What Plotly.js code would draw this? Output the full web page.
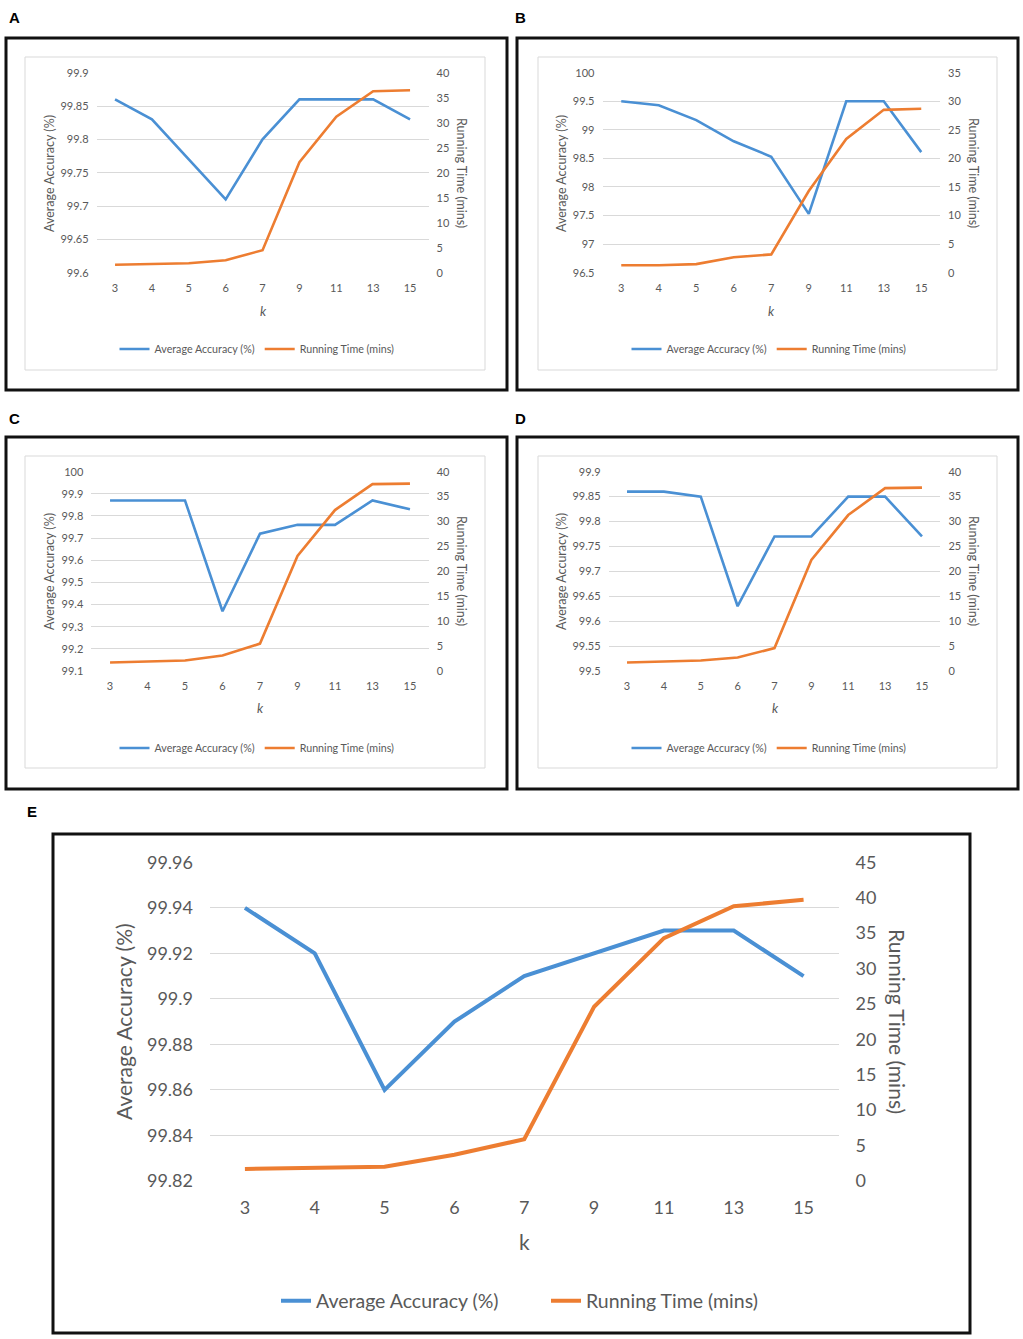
<!DOCTYPE html>
<html>
<head>
<meta charset="utf-8">
<script src="https://cdn.plot.ly/plotly-3.0.1.min.js"></script>
<style>html,body{margin:0;padding:0;background:#fff;}#chart{width:1023px;height:1339px;}</style>
</head>
<body>
<div id="chart"></div>
<script>
// ---- data ----
const kLabels = ['3','4','5','6','7','9','11','13','15'];
const accA  = [99.86, 99.83, 99.77, 99.71, 99.80, 99.86, 99.86, 99.86, 99.83];
const timeA = [1.6, 1.8, 1.9, 2.5, 4.5, 22.1, 31.2, 36.3, 36.5];
const accB  = [99.50, 99.43, 99.17, 98.80, 98.53, 97.53, 99.50, 99.50, 98.61];
const timeB = [1.3, 1.3, 1.5, 2.7, 3.2, 14.3, 23.4, 28.5, 28.7];
const accC  = [99.87, 99.87, 99.87, 99.37, 99.72, 99.76, 99.76, 99.87, 99.83];
const timeC = [1.7, 1.9, 2.1, 3.1, 5.5, 23.1, 32.3, 37.5, 37.6];
const accD  = [99.86, 99.86, 99.85, 99.63, 99.77, 99.77, 99.85, 99.85, 99.77];
const timeD = [1.7, 1.9, 2.1, 2.7, 4.6, 22.3, 31.3, 36.7, 36.8];
const accE  = [99.94, 99.92, 99.86, 99.89, 99.91, 99.92, 99.93, 99.93, 99.91];
const timeE = [1.7, 1.9, 2.0, 3.7, 5.9, 24.6, 34.3, 38.8, 39.7];
const panelLetters = ['A','B','C','D','E'];
const accName = 'Average Accuracy (%)';
const timeName = 'Running Time (mins)';
const xTitle = 'k';

// ---- layout geometry (pixels) ----
const W = 1023, H = 1339;
const px = v => v / W;
const py = v => 1 - v / H;
const FONT = 'Lato, "Open Sans", sans-serif';
const GREY = '#595959';
const BLUE = '#4a90d4';
const ORANGE = '#ed7d31';

const panels = [
  {acc: accA, time: timeA, accRange:[99.6,99.9], accDtick:0.05, timeRange:[0,40],
   plot:[96.6,428.5,72.7,272.7], border:[6,38,507,390], inner:[25,57,485,370],
   legend:[257,349], lt:[49,174], rt:[462,173], kpos:[263,311], letter:[14,18],
   big:false},
  {acc: accB, time: timeB, accRange:[96.5,100], accDtick:0.5, timeRange:[0,35],
   plot:[602.5,940,72.7,272.7], border:[517,38,1018,390], inner:[538,57,997,370],
   legend:[769,349], lt:[561,174], rt:[974,173], kpos:[771,311], letter:[520,18],
   big:false},
  {acc: accC, time: timeC, accRange:[99.1,100], accDtick:0.1, timeRange:[0,40],
   plot:[91.3,428.7,471.7,671], border:[6,437,507,789], inner:[25,456,485,768],
   legend:[257,748], lt:[49,572], rt:[462,571], kpos:[260,708], letter:[14,418],
   big:false},
  {acc: accD, time: timeD, accRange:[99.5,99.9], accDtick:0.05, timeRange:[0,40],
   plot:[608.6,940.4,471.7,671], border:[517,437,1018,789], inner:[538,456,997,768],
   legend:[769,748], lt:[561,572], rt:[974,571], kpos:[775,708], letter:[520,418],
   big:false},
  {acc: accE, time: timeE, accRange:[99.82,99.96], accDtick:0.02, timeRange:[0,45],
   plot:[210,838.5,862.3,1181], border:[53,834,970,1333], inner:null,
   legend:[276,1301], lt:[123,1022], rt:[898,1021], kpos:[524,1241], letter:[32,811],
   big:true}
];

const traces = [];
const layout = {
  width: W, height: H,
  margin: {l:0, r:0, t:0, b:0},
  paper_bgcolor: '#fff', plot_bgcolor: 'rgba(0,0,0,0)',
  font: {family: FONT, color: GREY},
  shapes: [], annotations: []
};

panels.forEach((p, i) => {
  const n = i + 1;
  const xa = n === 1 ? 'x' : 'x' + n;
  const yaL = 2 * n - 1, yaR = 2 * n;
  const yL = yaL === 1 ? 'y' : 'y' + yaL;
  const yR = 'y' + yaR;
  const legKey = n === 1 ? 'legend' : 'legend' + n;
  const lw = p.big ? 4 : 2.6;
  const tickSize = p.big ? 18 : 11;
  const titleSize = p.big ? 21 : 12.5;
  const legSize = p.big ? 19.5 : 10.7;

  traces.push({
    x: kLabels, y: p.acc, type: 'scatter', mode: 'lines', name: accName,
    xaxis: xa, yaxis: yL, legend: legKey,
    line: {color: BLUE, width: lw}, hoverinfo: 'skip'
  });
  traces.push({
    x: kLabels, y: p.time, type: 'scatter', mode: 'lines', name: timeName,
    xaxis: xa, yaxis: yR, legend: legKey,
    line: {color: ORANGE, width: lw}, hoverinfo: 'skip'
  });

  const xKey = n === 1 ? 'xaxis' : 'xaxis' + n;
  layout[xKey] = {
    type: 'category', categoryorder: 'array', categoryarray: kLabels,
    domain: [px(p.plot[0]), px(p.plot[1])], anchor: yL,
    range: [-0.5, 8.5], showgrid: false, zeroline: false, showline: false,
    ticks: '', tickfont: {size: tickSize, color: GREY, family: FONT},
    ticklabelstandoff: p.big ? 14 : 7, fixedrange: true
  };
  const yDom = [py(p.plot[3]), py(p.plot[2])];
  layout['yaxis' + (yaL === 1 ? '' : yaL)] = {
    domain: yDom, anchor: xa, range: p.accRange, dtick: p.accDtick, tick0: p.accRange[0],
    showgrid: true, gridcolor: '#d9d9d9', gridwidth: 1, zeroline: false, showline: false,
    ticks: '', tickfont: {size: tickSize, color: GREY, family: FONT},
    ticklabelstandoff: p.big ? 16 : 7, fixedrange: true
  };
  layout['yaxis' + yaR] = {
    domain: yDom, anchor: xa, overlaying: yL, side: 'right',
    range: p.timeRange, dtick: 5, tick0: 0,
    showgrid: false, zeroline: false, showline: false,
    ticks: '', tickfont: {size: tickSize, color: GREY, family: FONT},
    ticklabelstandoff: p.big ? 16 : 7, fixedrange: true
  };
  const leg = {
    orientation: 'h', x: px(p.legend[0]), y: py(p.legend[1]),
    xanchor: p.big ? 'left' : 'center', yanchor: 'middle', xref: 'paper', yref: 'paper',
    font: {size: legSize, color: GREY, family: FONT},
    bgcolor: 'rgba(0,0,0,0)', itemwidth: 30, tracegroupgap: 0
  };
  if (p.big) { leg.entrywidth = 225; leg.entrywidthmode = 'pixels'; }
  layout[legKey] = leg;

  // frames
  layout.shapes.push({
    type: 'rect', xref: 'paper', yref: 'paper',
    x0: px(p.border[0]), x1: px(p.border[2]), y0: py(p.border[3]), y1: py(p.border[1]),
    line: {color: '#111', width: 3}, fillcolor: 'rgba(0,0,0,0)', layer: 'above'
  });
  if (p.inner) {
    layout.shapes.push({
      type: 'rect', xref: 'paper', yref: 'paper',
      x0: px(p.inner[0]), x1: px(p.inner[2]), y0: py(p.inner[3]), y1: py(p.inner[1]),
      line: {color: '#d9d9d9', width: 1}, fillcolor: 'rgba(0,0,0,0)', layer: 'below'
    });
  }

  // texts
  layout.annotations.push({
    text: accName, xref: 'paper', yref: 'paper', x: px(p.lt[0]), y: py(p.lt[1]),
    xanchor: 'center', yanchor: 'middle', textangle: -90, showarrow: false,
    font: {size: titleSize, color: GREY, family: FONT}
  });
  layout.annotations.push({
    text: timeName, xref: 'paper', yref: 'paper', x: px(p.rt[0]), y: py(p.rt[1]),
    xanchor: 'center', yanchor: 'middle', textangle: 90, showarrow: false,
    font: {size: titleSize, color: GREY, family: FONT}
  });
  layout.annotations.push({
    text: p.big ? xTitle : '<i>' + xTitle + '</i>', xref: 'paper', yref: 'paper',
    x: px(p.kpos[0]), y: py(p.kpos[1]),
    xanchor: 'center', yanchor: 'middle', showarrow: false,
    font: {size: p.big ? 21 : 13, color: GREY, family: FONT}
  });
  layout.annotations.push({
    text: '<b>' + panelLetters[i] + '</b>', xref: 'paper', yref: 'paper',
    x: px(p.letter[0]), y: py(p.letter[1]),
    xanchor: 'center', yanchor: 'middle', showarrow: false,
    font: {size: 15, color: '#000', family: 'Liberation Sans, Arial, sans-serif'}
  });
});

Plotly.newPlot('chart', traces, layout, {displayModeBar: false, staticPlot: true});
</script>
</body>
</html>
